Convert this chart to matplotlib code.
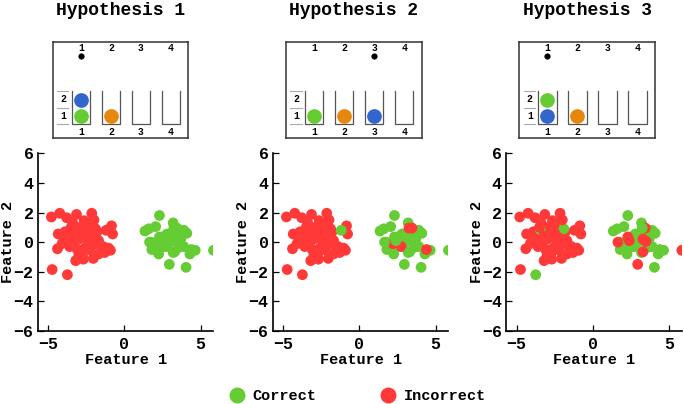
import matplotlib
matplotlib.use('Agg')
import matplotlib.pyplot as plt

plt.rcParams['font.family'] = ['Liberation Mono', 'DejaVu Sans Mono']
plt.rcParams['font.weight'] = 'bold'
plt.rcParams['axes.unicode_minus'] = True

RED = '#ff3838'
GREEN = '#66cc33'
BLUE = '#3366cc'
ORANGE = '#e8870e'
BALL_COLORS = {'green': GREEN, 'blue': BLUE, 'orange': ORANGE}

# point positions, the same in the three panels
# left blob first, then right blob
feat1 = [-4.8, -4.25, -3.8, -3.15, -2.15, -2.65, -3.4, -0.85, -0.78, -1.05,
         -0.92, -1.3, -1.7, -2.05, -2.7, -3.2, -4.4, -4.75, -3.75, -4.35,
         -4.0, -3.7, -3.5, -3.3, -3.0, -2.8, -2.5, -2.2, -2.0, -1.8,
         -2.4, -2.6, -3.1, -3.6, -3.9, -2.9, -2.1, -1.7, -3.3, -2.7,
         -3.8, -2.3, -1.9, -1.2, -2.45, -3.45, -1.5, -2.3, -3.0, -4.1,
         -3.5, -2.0, -3.2, -2.5, -1.4,
         2.3, 3.2, 2.05, 1.35, 1.6, 3.9, 1.75, 2.25, 2.95, 4.05,
         4.3, 4.65, 5.85, 2.5, 2.8, 3.2, 3.5, 3.7, 3.0, 2.6,
         3.2, 3.6, 2.1, 2.3, 1.8, 3.9, 3.45, 3.25, 2.2, 2.75,
         4.4, 3.3, 3.5, 1.65, 2.3, 2.4, 3.3, 4.1]
feat2 = [1.7, 1.95, 1.65, 1.87, 1.95, 1.45, 1.3, 1.1, 0.55, -0.4,
         -0.55, -0.7, -0.8, -1.1, -1.15, -1.25, -0.45, -1.85, -2.2, 0.55,
         0.3, 0.0, 0.5, 0.8, 0.2, 0.6, 0.9, 0.7, 0.3, 0.7,
         0.1, -0.4, -0.5, -0.3, 0.7, 1.0, -0.2, 0.1, -0.1, -0.7,
         0.4, 1.2, 0.9, 0.8, 0.5, 0.85, -0.5, -0.5, -0.9, -0.1,
         1.0, 1.5, 0.4, 0.4, -0.3,
         1.8, 1.3, 1.05, 0.75, 0.9, 0.8, 0.0, -0.8, -1.5, -1.7,
         -0.8, -0.55, -0.55, 0.35, 0.55, 0.7, 0.4, 0.2, 0.0, -0.3,
         -0.7, -0.35, -0.25, 0.05, -0.5, -0.3, 0.95, 0.95, -0.1, -0.3,
         -0.5, 0.2, 0.05, 0.0, 0.35, 0.1, -0.65, 0.6]

# 1 = correct, 0 = incorrect, per hypothesis
correct_h1 = [0, 0, 0, 0, 0, 0, 0, 0, 0, 0,
              0, 0, 0, 0, 0, 0, 0, 0, 0, 0,
              0, 0, 0, 0, 0, 0, 0, 0, 0, 0,
              0, 0, 0, 0, 0, 0, 0, 0, 0, 0,
              0, 0, 0, 0, 0, 0, 0, 0, 0, 0,
              0, 0, 0, 0, 0,
              1, 1, 1, 1, 1, 1, 1, 1, 1, 1,
              1, 1, 1, 1, 1, 1, 1, 1, 1, 1,
              1, 1, 1, 1, 1, 1, 1, 1, 1, 1,
              1, 1, 1, 1, 1, 1, 1, 1]
correct_h2 = [0, 0, 0, 0, 0, 0, 0, 0, 0, 0,
              0, 0, 0, 0, 0, 0, 0, 0, 0, 0,
              0, 0, 0, 0, 0, 0, 0, 0, 0, 0,
              0, 0, 0, 0, 0, 0, 0, 0, 0, 0,
              0, 0, 0, 1, 0, 0, 0, 0, 0, 0,
              0, 0, 0, 0, 0,
              1, 1, 1, 1, 1, 1, 1, 1, 1, 1,
              1, 1, 1, 1, 1, 1, 1, 1, 1, 1,
              1, 1, 1, 1, 1, 1, 0, 0, 0, 0,
              0, 1, 1, 1, 1, 1, 1, 1]
correct_h3 = [0, 0, 0, 0, 0, 0, 0, 0, 0, 0,
              0, 0, 0, 0, 0, 0, 0, 0, 1, 0,
              0, 0, 0, 0, 0, 0, 0, 0, 0, 0,
              0, 0, 0, 0, 0, 0, 0, 0, 0, 0,
              0, 0, 1, 0, 0, 1, 0, 0, 0, 0,
              0, 0, 0, 0, 0,
              1, 1, 1, 1, 1, 1, 1, 1, 0, 1,
              1, 1, 0, 1, 1, 1, 1, 1, 1, 1,
              1, 1, 1, 1, 1, 1, 0, 1, 1, 1,
              1, 0, 0, 0, 0, 0, 0, 1]

titles = ['Hypothesis 1', 'Hypothesis 2', 'Hypothesis 3']
# balls in each of the 4 columns, bottom to top
stacks = [
    [['green', 'blue'], ['orange'], [], []],
    [['green'], ['orange'], ['blue'], []],
    [['blue', 'green'], ['orange'], [], []],
]
pointer_col = [1, 3, 1]
correct_all = [correct_h1, correct_h2, correct_h3]

fig = plt.figure(figsize=(6.84, 4.04), dpi=100)

panel_left = [0.0551, 0.3987, 0.7398]
box_left = [0.077, 0.4181, 0.7592]

for i in range(3):
    # schematic box
    bx = fig.add_axes([box_left[i], 0.6577, 0.1982, 0.2391])
    bx.set_xlim(0.06, 4.58)
    bx.set_ylim(-0.84, 4.95)
    bx.set_xticks([])
    bx.set_yticks([])
    for sp in bx.spines.values():
        sp.set_color('#333333')
        sp.set_linewidth(1.1)
    for c in range(1, 5):
        bx.plot([c - 0.31, c - 0.31, c + 0.31, c + 0.31], [2, 0, 0, 2],
                color='#555555', lw=0.9)
        bx.text(c, 4.55, str(c), ha='center', va='center', fontsize=7)
        bx.text(c, -0.44, str(c), ha='center', va='center', fontsize=7)
        for lvl, ball in enumerate(stacks[i][c - 1]):
            bx.scatter(c, 0.5 + 0.93 * lvl, s=112, color=BALL_COLORS[ball],
                       linewidths=0, zorder=3)
    for lv in [0, 1, 2]:
        bx.plot([0.21, 0.58], [lv, lv], color='#aaaaaa', lw=0.8)
    bx.text(0.41, 0.5, '1', ha='center', va='center', fontsize=7)
    bx.text(0.41, 1.5, '2', ha='center', va='center', fontsize=7)
    bx.scatter(pointer_col[i], 4.1, s=20, color='black', linewidths=0)

    fig.text(box_left[i] + 0.0991, 0.973, titles[i], ha='center', va='center',
             fontsize=13, fontweight='bold')

    # scatter panel
    ax = fig.add_axes([panel_left[i], 0.1807, 0.257, 0.4399])
    cols = [GREEN if ok else RED for ok in correct_all[i]]
    ax.scatter(feat1, feat2, s=60, c=cols, linewidths=0)
    ax.set_xlim(-5.7, 5.85)
    ax.set_ylim(-6, 6)
    ax.set_xticks([-5, 0, 5])
    ax.set_yticks([-6, -4, -2, 0, 2, 4, 6])
    ax.spines['top'].set_visible(False)
    ax.spines['right'].set_visible(False)
    for side in ['left', 'bottom']:
        ax.spines[side].set_linewidth(1.2)
    ax.tick_params(direction='in', length=4, width=0.9, labelsize=12)
    ax.tick_params(axis='y', pad=3)
    ax.tick_params(axis='x', pad=4)
    ax.set_xlabel('Feature 1', fontsize=11, fontweight='bold')
    ax.set_ylabel('Feature 2', fontsize=11, fontweight='bold')
    ax.xaxis.set_label_coords(0.5, -0.125)
    ax.yaxis.set_label_coords(-0.128, 0.5)

handles = [
    plt.Line2D([], [], ls='', marker='o', markersize=11.5, color=GREEN, markeredgewidth=0),
    plt.Line2D([], [], ls='', marker='o', markersize=11.5, color=RED, markeredgewidth=0),
]
fig.legend(handles, ['Correct', 'Incorrect'], loc='center', bbox_to_anchor=(0.523, 0.02),
           ncol=2, frameon=False, fontsize=11, handlelength=1, handletextpad=0.5,
           columnspacing=4.2, borderpad=0)

fig.savefig('out.png', dpi=100)
